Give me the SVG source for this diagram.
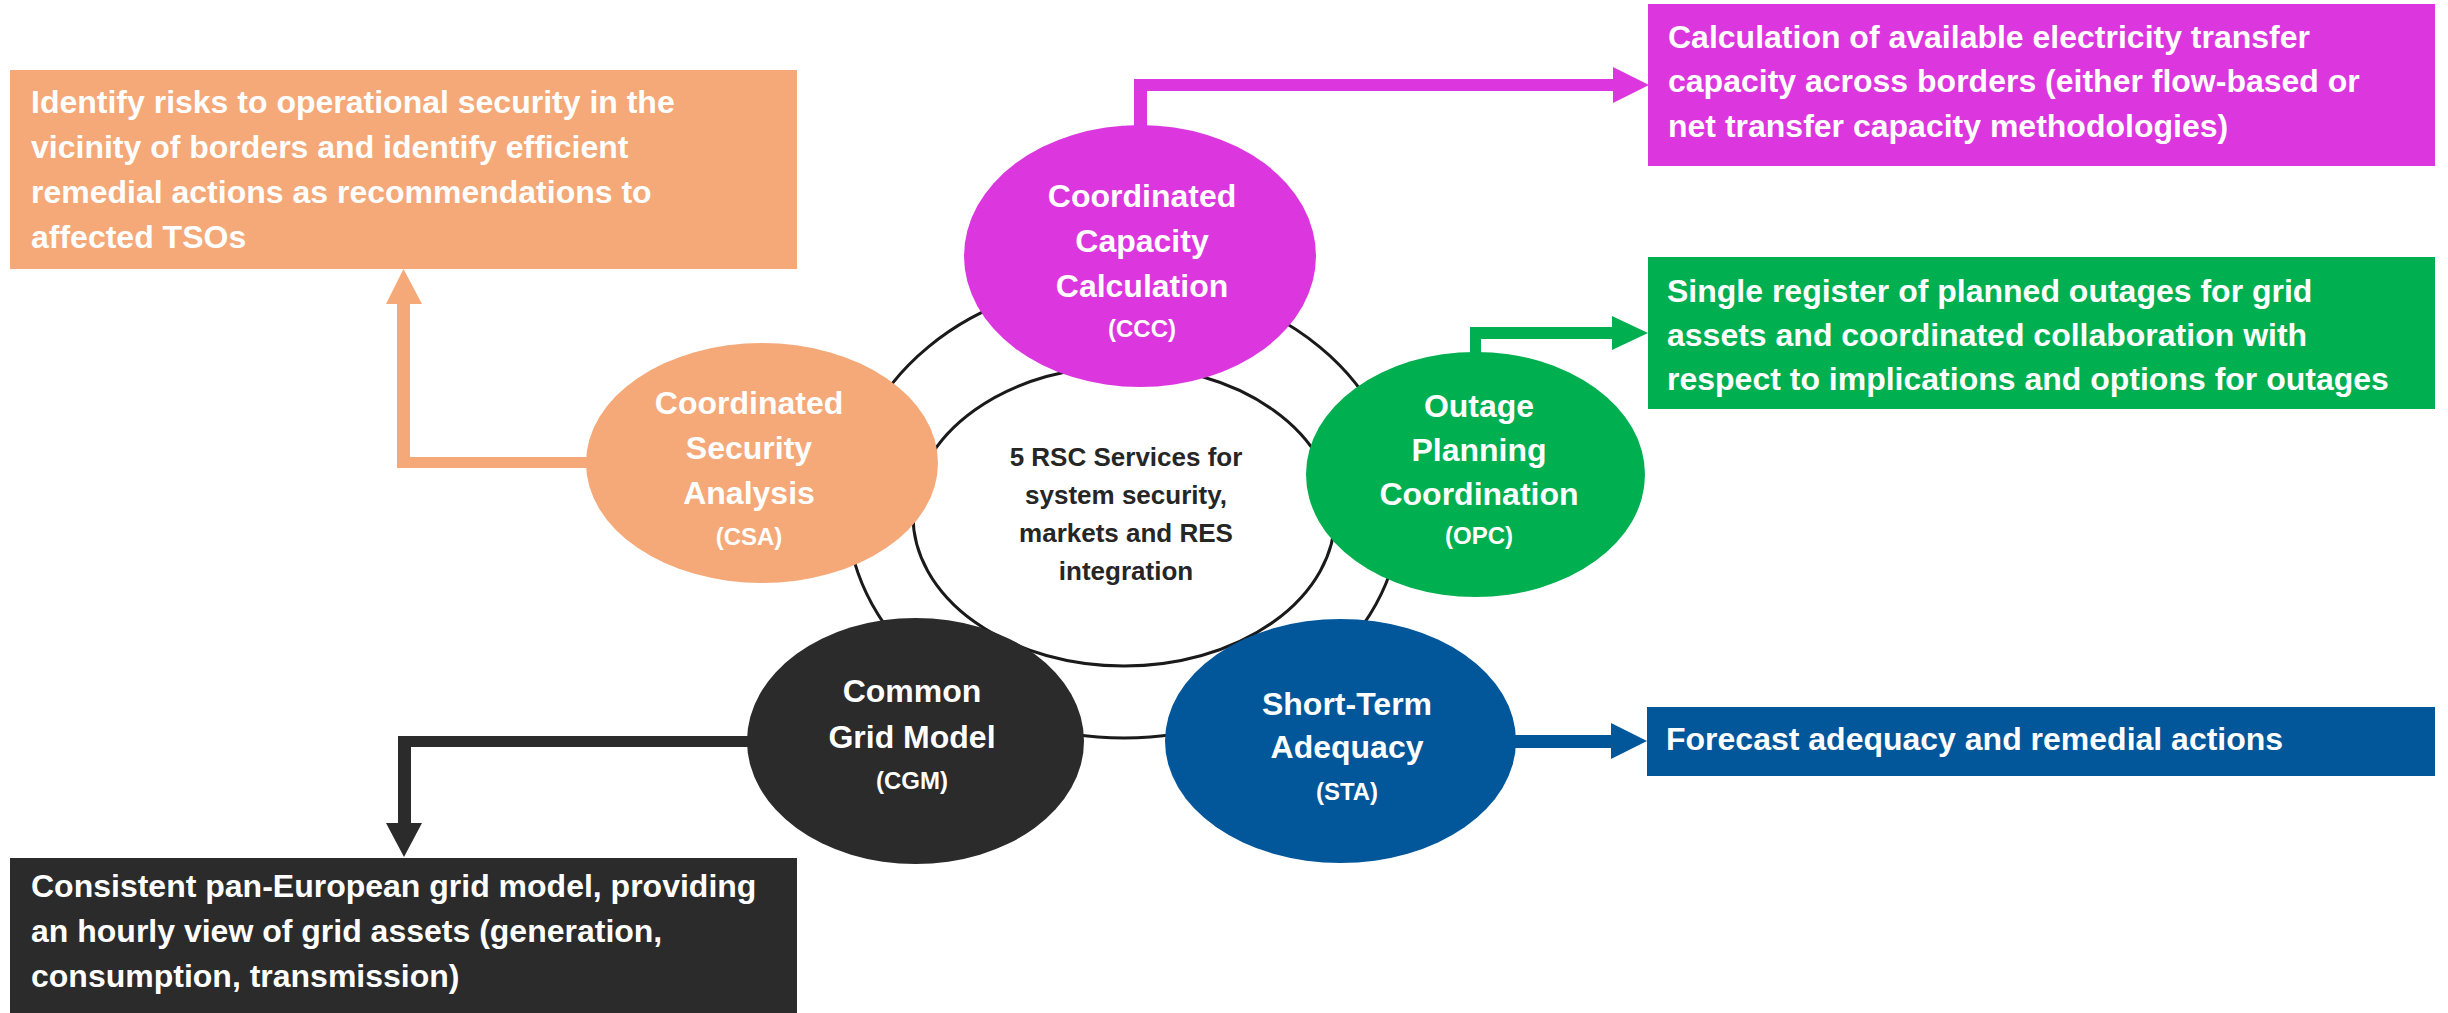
<svg xmlns="http://www.w3.org/2000/svg" width="2448" height="1013" viewBox="0 0 2448 1013">
<style>
text{font-family:"Liberation Sans",Arial,sans-serif;font-weight:bold}
.w{fill:#ffffff}
.box{font-size:32px}
.title{font-size:32px;text-anchor:middle}
.abbr{font-size:24px;text-anchor:middle}
.center{font-size:26px;text-anchor:middle;fill:#262626}
.orange{fill:#F5A978}
.magenta{fill:#DC36DE}
.green{fill:#00AF50}
.blue{fill:#02569A}
.dark{fill:#2B2B2B}
</style>
<rect width="2448" height="1013" fill="#ffffff"/>
<g id="hub">
<ellipse cx="1124" cy="509" rx="277" ry="229" fill="#ffffff" stroke="#1a1a1a" stroke-width="3"/>
<ellipse cx="1124" cy="516" rx="211" ry="150" fill="#ffffff" stroke="#1a1a1a" stroke-width="3"/>
<text class="center" x="1126" y="466">5 RSC Services for</text>
<text class="center" x="1126" y="504">system security,</text>
<text class="center" x="1126" y="542">markets and RES</text>
<text class="center" x="1126" y="580">integration</text>
</g>
<g id="connectors">
<path class="orange" d="M590 457 L410 457 L410 304 L422 304 L403.5 269 L386 304 L397 304 L397 468 L590 468 Z"/>
<path class="magenta" d="M1134 130 L1134 79 L1613 79 L1613 67 L1649 85 L1613 103 L1613 91 L1147 91 L1147 130 Z"/>
<path class="green" d="M1470 356 L1470 327 L1612 327 L1612 316 L1648 333 L1612 350 L1612 339 L1481 339 L1481 356 Z"/>
<path class="blue" d="M1512 735 L1611 735 L1611 723 L1647 741 L1611 759 L1611 748 L1512 748 Z"/>
<path class="dark" d="M752 736 L398 736 L398 823 L386 823 L404 857 L422 823 L411 823 L411 747 L752 747 Z"/>
</g>
<g id="csa">
<ellipse class="orange" cx="762" cy="463" rx="176" ry="120"/>
<text class="title w" x="749" y="414">Coordinated</text>
<text class="title w" x="749" y="459">Security</text>
<text class="title w" x="749" y="504">Analysis</text>
<text class="abbr w" x="749" y="545">(CSA)</text>
</g>
<g id="ccc">
<ellipse class="magenta" cx="1140" cy="256" rx="176" ry="131"/>
<text class="title w" x="1142" y="207">Coordinated</text>
<text class="title w" x="1142" y="252">Capacity</text>
<text class="title w" x="1142" y="297">Calculation</text>
<text class="abbr w" x="1142" y="337">(CCC)</text>
</g>
<g id="opc">
<ellipse class="green" cx="1475.5" cy="474.5" rx="169.5" ry="122.5"/>
<text class="title w" x="1479" y="417">Outage</text>
<text class="title w" x="1479" y="461">Planning</text>
<text class="title w" x="1479" y="505">Coordination</text>
<text class="abbr w" x="1479" y="544">(OPC)</text>
</g>
<g id="cgm">
<ellipse class="dark" cx="915.5" cy="741" rx="168.5" ry="123"/>
<text class="title w" x="912" y="702">Common</text>
<text class="title w" x="912" y="748">Grid Model</text>
<text class="abbr w" x="912" y="789">(CGM)</text>
</g>
<g id="sta">
<ellipse class="blue" cx="1340.5" cy="741" rx="175.5" ry="122"/>
<text class="title w" x="1347" y="715">Short-Term</text>
<text class="title w" x="1347" y="758">Adequacy</text>
<text class="abbr w" x="1347" y="800">(STA)</text>
</g>
<g id="csa-desc">
<rect class="orange" x="10" y="70" width="787" height="199"/>
<text class="box w" x="31" y="113">Identify risks to operational security in the</text>
<text class="box w" x="31" y="158">vicinity of borders and identify efficient</text>
<text class="box w" x="31" y="203">remedial actions as recommendations to</text>
<text class="box w" x="31" y="248">affected TSOs</text>
</g>
<g id="ccc-desc">
<rect class="magenta" x="1648" y="4" width="787" height="162"/>
<text class="box w" x="1668" y="48">Calculation of available electricity transfer</text>
<text class="box w" x="1668" y="92">capacity across borders (either flow-based or</text>
<text class="box w" x="1668" y="137">net transfer capacity methodologies)</text>
</g>
<g id="opc-desc">
<rect class="green" x="1648" y="257" width="787" height="152"/>
<text class="box w" x="1667" y="302">Single register of planned outages for grid</text>
<text class="box w" x="1667" y="346">assets and coordinated collaboration with</text>
<text class="box w" x="1667" y="390">respect to implications and options for outages</text>
</g>
<g id="sta-desc">
<rect class="blue" x="1647" y="707" width="788" height="69"/>
<text class="box w" x="1666" y="750">Forecast adequacy and remedial actions</text>
</g>
<g id="cgm-desc">
<rect class="dark" x="10" y="858" width="787" height="155"/>
<text class="box w" x="31" y="897">Consistent pan-European grid model, providing</text>
<text class="box w" x="31" y="942">an hourly view of grid assets (generation,</text>
<text class="box w" x="31" y="987">consumption, transmission)</text>
</g>
</svg>
